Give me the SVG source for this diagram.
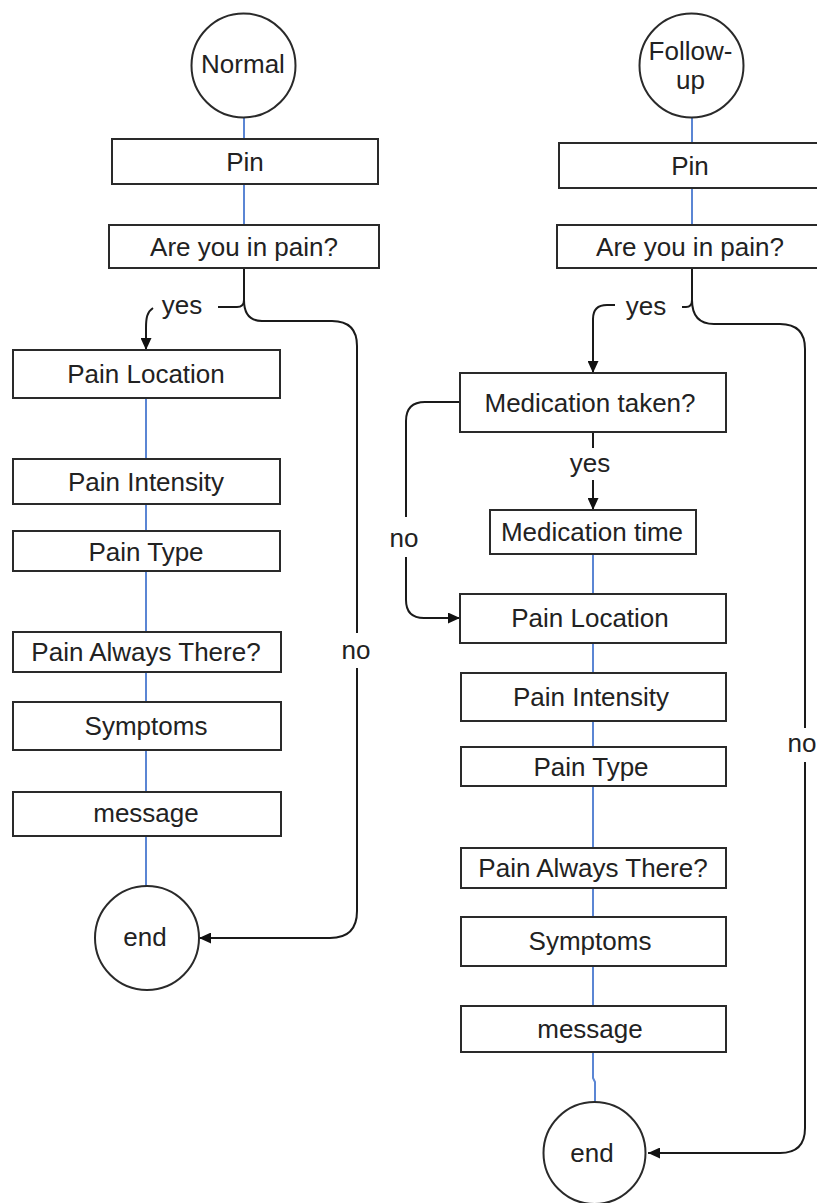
<svg xmlns="http://www.w3.org/2000/svg" width="817" height="1203" viewBox="0 0 817 1203">
<style>
.box{fill:#fff;stroke:#2a2a2a;stroke-width:2}
.circ{fill:#fff;stroke:#2a2a2a;stroke-width:2}
.t{font-family:"Liberation Sans",Arial,sans-serif;font-size:26px;fill:#222;text-anchor:middle}
.blue{stroke:#5b86d4;stroke-width:2;fill:none}
.blk{stroke:#1a1a1a;stroke-width:2;fill:none}
.arr{marker-end:url(#ah)}
</style>
<defs>
<marker id="ah" markerUnits="userSpaceOnUse" markerWidth="13" markerHeight="11" refX="12" refY="5.5" orient="auto">
<path d="M0,0 L12,5.5 L0,11 z" fill="#111"/>
</marker>
</defs>
<rect width="817" height="1203" fill="#fff"/>
<g id="connectors">
<!-- left blue -->
<line class="blue" x1="244" y1="118" x2="244" y2="139"/>
<line class="blue" x1="244" y1="184" x2="244" y2="225"/>
<line class="blue" x1="146" y1="398" x2="146" y2="459"/>
<line class="blue" x1="146" y1="504" x2="146" y2="531"/>
<line class="blue" x1="146" y1="571" x2="146" y2="632"/>
<line class="blue" x1="146" y1="672" x2="146" y2="702"/>
<line class="blue" x1="146" y1="750" x2="146" y2="792"/>
<line class="blue" x1="146" y1="836" x2="146" y2="886"/>
<!-- right blue -->
<line class="blue" x1="692" y1="118" x2="692" y2="143"/>
<line class="blue" x1="692" y1="188" x2="692" y2="225"/>
<line class="blue" x1="593" y1="554" x2="593" y2="594"/>
<line class="blue" x1="593" y1="643" x2="593" y2="673"/>
<line class="blue" x1="593" y1="721" x2="593" y2="747"/>
<line class="blue" x1="593" y1="786" x2="593" y2="848"/>
<line class="blue" x1="593" y1="888" x2="593" y2="917"/>
<line class="blue" x1="593" y1="966" x2="593" y2="1006"/>
<path class="blue" d="M593 1052 V1078 L595 1082 V1102"/>
<!-- left yes / no -->
<path class="blk" d="M244 268 V300 Q244 307 237 307 H218"/>
<path class="blk arr" d="M153 308 C147 312 146 318 146 328 V350"/>
<path class="blk" d="M244 300 Q244 321 262 321 H332 Q357 321 357 346 V633"/>
<path class="blk arr" d="M357 668 V911 Q357 938 330 938 H199"/>
<!-- right yes / no -->
<path class="blk" d="M692 268 V300 Q692 307 686 307 H682"/>
<path class="blk arr" d="M615 305 H607 Q593 305 593 319 V373"/>
<path class="blk" d="M692 300 Q692 324 714 324 H780 Q805 324 805 349 V728"/>
<path class="blk arr" d="M805 762 V1128 Q805 1153 780 1153 H648"/>
<!-- medication yes / no -->
<path class="blk" d="M593 432 V448"/>
<path class="blk arr" d="M593 480 V510"/>
<path class="blk" d="M460 402 H425 Q406 402 406 421 V517"/>
<path class="blk arr" d="M406 557 V600 Q406 618 424 618 H460"/>
</g>
<g id="labels">
<text class="t" x="182" y="314">yes</text>
<text class="t" x="356" y="659">no</text>
<text class="t" x="646" y="315">yes</text>
<text class="t" x="590" y="472">yes</text>
<text class="t" x="404" y="547">no</text>
<text class="t" x="802" y="752">no</text>
</g>
<g id="n-normal"><circle class="circ" cx="243.5" cy="65.5" r="52"/><text class="t" x="243" y="73">Normal</text></g>
<g id="n-pin-l"><rect class="box" x="112" y="139" width="266" height="45"/><text class="t" x="245" y="171">Pin</text></g>
<g id="n-pain-l"><rect class="box" x="109" y="225" width="270" height="43"/><text class="t" x="244" y="256">Are you in pain?</text></g>
<g id="n-loc-l"><rect class="box" x="13" y="350" width="267" height="48"/><text class="t" x="146" y="383">Pain Location</text></g>
<g id="n-int-l"><rect class="box" x="13" y="459" width="267" height="45"/><text class="t" x="146" y="491">Pain Intensity</text></g>
<g id="n-type-l"><rect class="box" x="13" y="531" width="267" height="40"/><text class="t" x="146" y="561">Pain Type</text></g>
<g id="n-always-l"><rect class="box" x="13" y="632" width="268" height="40"/><text class="t" x="146" y="661">Pain Always There?</text></g>
<g id="n-sym-l"><rect class="box" x="13" y="702" width="268" height="48"/><text class="t" x="146" y="735">Symptoms</text></g>
<g id="n-msg-l"><rect class="box" x="13" y="792" width="268" height="44"/><text class="t" x="146" y="822">message</text></g>
<g id="n-end-l"><circle class="circ" cx="147" cy="938" r="52"/><text class="t" x="145" y="946">end</text></g>
<g id="n-follow"><circle class="circ" cx="691.5" cy="65.5" r="52"/><text class="t" x="690.5" y="60">Follow-</text><text class="t" x="690.5" y="89">up</text></g>
<g id="n-pin-r"><rect class="box" x="559" y="143" width="264" height="45"/><text class="t" x="690" y="175">Pin</text></g>
<g id="n-pain-r"><rect class="box" x="557" y="225" width="268" height="43"/><text class="t" x="690" y="256">Are you in pain?</text></g>
<g id="n-medtaken"><rect class="box" x="460" y="373" width="266" height="59"/><text class="t" x="590" y="412">Medication taken?</text></g>
<g id="n-medtime"><rect class="box" x="490" y="510" width="206" height="44"/><text class="t" x="592" y="541">Medication time</text></g>
<g id="n-loc-r"><rect class="box" x="460" y="594" width="266" height="49"/><text class="t" x="590" y="627">Pain Location</text></g>
<g id="n-int-r"><rect class="box" x="461" y="673" width="265" height="48"/><text class="t" x="591" y="706">Pain Intensity</text></g>
<g id="n-type-r"><rect class="box" x="461" y="747" width="265" height="39"/><text class="t" x="591" y="776">Pain Type</text></g>
<g id="n-always-r"><rect class="box" x="461" y="848" width="265" height="40"/><text class="t" x="593" y="877">Pain Always There?</text></g>
<g id="n-sym-r"><rect class="box" x="461" y="917" width="265" height="49"/><text class="t" x="590" y="950">Symptoms</text></g>
<g id="n-msg-r"><rect class="box" x="461" y="1006" width="265" height="46"/><text class="t" x="590" y="1038">message</text></g>
<g id="n-end-r"><circle class="circ" cx="594.5" cy="1153" r="51"/><text class="t" x="592" y="1162">end</text></g>
</svg>
